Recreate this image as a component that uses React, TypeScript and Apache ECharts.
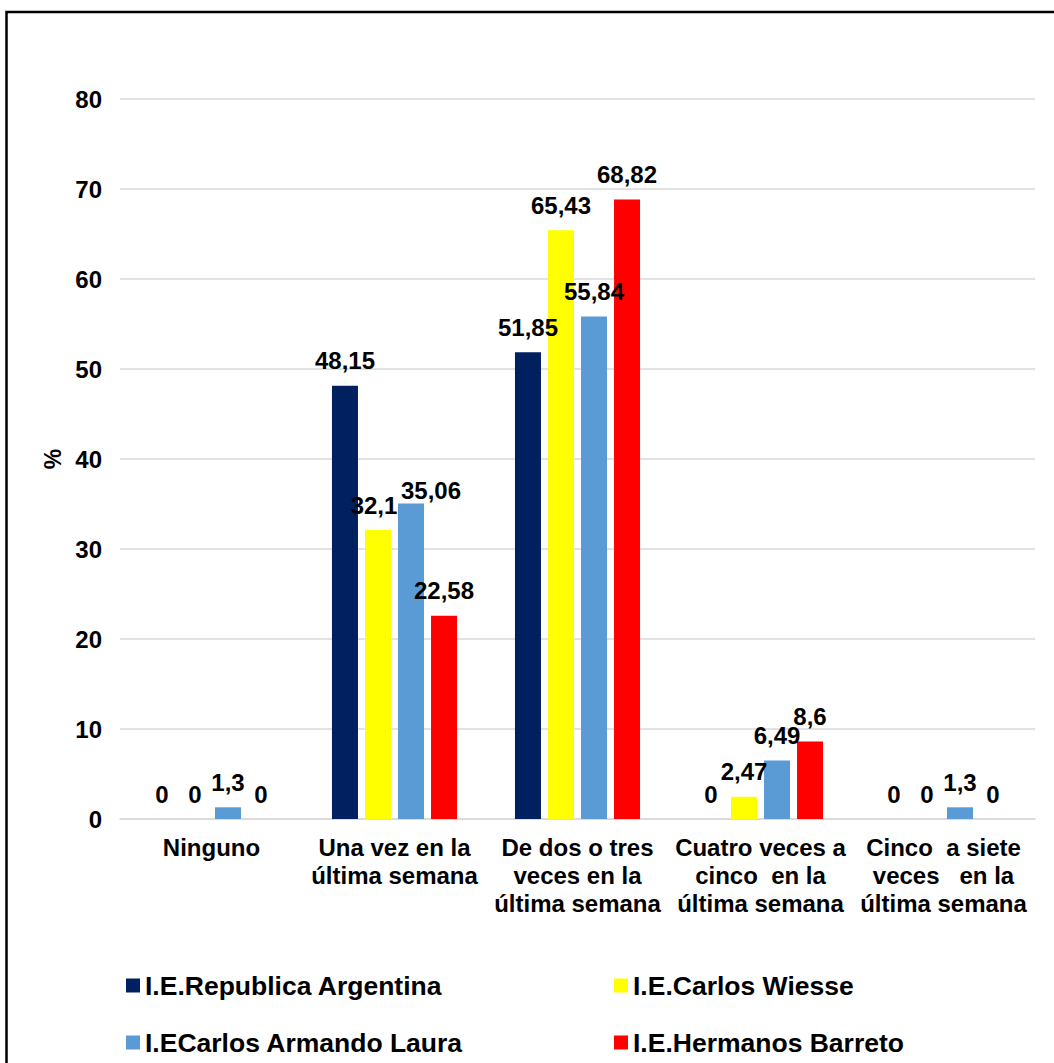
import React, { useEffect, useRef } from "react";
import * as echarts from "echarts";

const categories = [
  "Ninguno",
  "Una vez en la\núltima semana",
  "De dos o tres\nveces en la\núltima semana",
  "Cuatro veces a\ncinco  en la\núltima semana",
  "Cinco  a siete\nveces   en la\núltima semana",
];

const seriesNames = [
  "I.E.Republica Argentina",
  "I.E.Carlos Wiesse",
  "I.ECarlos Armando Laura",
  "I.E.Hermanos Barreto",
];

const argentina = [0, 48.15, 51.85, 0, 0];
const wiesse = [0, 32.1, 65.43, 2.47, 0];
const laura = [1.3, 35.06, 55.84, 6.49, 1.3];
const barreto = [0, 22.58, 68.82, 8.6, 0];

const yTicks = [0, 10, 20, 30, 40, 50, 60, 70, 80];

const colors = ["#002060", "#FFFF00", "#5B9BD5", "#FF0000"];

const FONT = "'Liberation Sans', Arial, sans-serif";

export default function App() {
  const ref = useRef<HTMLDivElement>(null);

  useEffect(() => {
    if (!ref.current) return;
    const chart = echarts.init(ref.current, undefined, { renderer: "svg" });

    const allValues = [argentina, wiesse, laura, barreto];
    // label offsets (styling only) keyed by series/category index
    const labelOffsets: Record<string, [number, number]> = {
      "2-1": [20, 12],
      "1-1": [-4, 0],
    };

    const series = allValues.map((vals, si) => ({
      name: seriesNames[si],
      type: "bar",
      barWidth: 26,
      barGap: "27%",
      itemStyle: { color: colors[si] },
      data: vals.map((v, ci) => {
        const off = labelOffsets[`${si}-${ci}`];
        return off ? { value: v, label: { offset: off } } : { value: v };
      }),
      label: {
        show: true,
        position: "top",
        distance: 13,
        fontFamily: FONT,
        fontWeight: "bold",
        fontSize: 24,
        color: "#000",
        formatter: (p: any) => String(p.value).replace(".", ","),
      },
    }));

    const legendPos = [
      { left: 126, top: 972 },
      { left: 614, top: 972 },
      { left: 126, top: 1029 },
      { left: 614, top: 1029 },
    ];

    const legends = seriesNames.map((n, i) => ({
      data: [n],
      left: legendPos[i].left,
      top: legendPos[i].top,
      orient: "horizontal",
      icon: "rect",
      itemWidth: 14,
      itemHeight: 14,
      selectedMode: false,
      padding: 0,
      textStyle: {
        fontFamily: FONT,
        fontWeight: "bold",
        fontSize: 26.5,
        color: "#000",
      },
    }));

    chart.setOption({
      animation: false,
      backgroundColor: "#fff",
      textStyle: { fontFamily: FONT },
      graphic: [
        {
          type: "rect",
          shape: { x: 6.5, y: 12, width: 1200, height: 1200 },
          style: { fill: "none", stroke: "#000", lineWidth: 2.5 },
          silent: true,
        },
      ],
      legend: legends,
      grid: { left: 120, right: 19, top: 99, bottom: 244, containLabel: false },
      xAxis: {
        type: "category",
        data: categories,
        axisTick: { show: false },
        axisLine: { show: true, lineStyle: { color: "#d9d9d9", width: 1.5 } },
        axisLabel: {
          interval: 0,
          margin: 14,
          fontFamily: FONT,
          fontWeight: "bold",
          fontSize: 24,
          lineHeight: 28,
          color: "#000",
          align: "center",
        },
      },
      yAxis: {
        type: "value",
        min: yTicks[0],
        max: yTicks[yTicks.length - 1],
        interval: 10,
        name: "%",
        nameLocation: "middle",
        nameGap: 56,
        nameRotate: 90,
        nameTextStyle: {
          fontFamily: FONT,
          fontWeight: "bold",
          fontSize: 23,
          color: "#000",
        },
        axisLine: { show: false },
        axisTick: { show: false },
        splitLine: { lineStyle: { color: "#d9d9d9", width: 1.5 } },
        axisLabel: {
          margin: 18,
          fontFamily: FONT,
          fontWeight: "bold",
          fontSize: 24,
          color: "#000",
        },
      },
      series,
    });

    return () => chart.dispose();
  }, []);

  return (
    <div
      ref={ref}
      style={{ position: "fixed", left: 0, top: 0, width: 1054, height: 1063 }}
    />
  );
}
